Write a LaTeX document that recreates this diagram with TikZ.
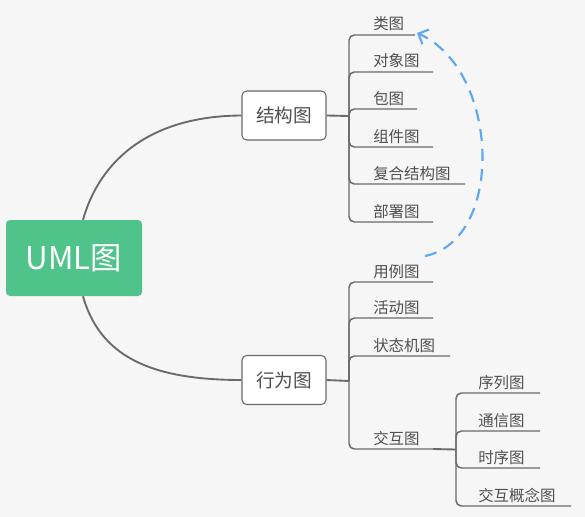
\documentclass[tikz,border=0pt]{standalone}
\usepackage{fontspec}
\setmainfont{Noto Sans CJK SC}
\usetikzlibrary{arrows.meta,calc}
\definecolor{bg}{HTML}{F6F6F6}
\definecolor{rootgreen}{HTML}{50C38B}
\definecolor{linegray}{HTML}{6A6A6A}
\definecolor{txtgray}{HTML}{4F4F4F}
\definecolor{dashblue}{HTML}{5DA8F4}
\tikzset{
  rootbox/.style={fill=rootgreen, rounded corners=3pt, minimum width=102pt, minimum height=57pt, inner sep=0pt, text=white, font=\fontsize{23.5}{26}\selectfont},
  midbox/.style={draw=linegray, fill=white, line width=0.8pt, rounded corners=3.5pt, minimum width=63pt, minimum height=36.75pt, inner sep=0pt, text=txtgray, font=\fontsize{14}{16}\selectfont},
  conn/.style={draw=linegray, line width=1.4pt},
  branch/.style={draw=linegray, line width=1.1pt, rounded corners=4},
  lab/.style={anchor=base west, inner sep=0pt, text=txtgray, font=\fontsize{11.6}{13}\selectfont},
  dasharrow/.style={draw=dashblue, line width=1.6pt, dash pattern=on 9pt off 6pt, -{Straight Barb[length=6pt,width=12pt,line width=1.6pt]}}
}
\begin{document}
\begin{tikzpicture}[x=0.75pt,y=-0.75pt]
\fill[bg] (0,0) rectangle (585,517);
\useasboundingbox (0,0) rectangle (585,517);

\node[rootbox] (uml) at (74,258) {UML图};
\node[midbox] (jg) at (284,115.5) {结构图};
\node[midbox] (xw) at (284,380) {行为图};

\draw[conn] ($(uml.north)+(9,0)$) .. controls (100,160) and (150,116) .. (jg.west);
\draw[conn] ($(uml.south)+(9,0)$) .. controls (100,356) and (150,380) .. (xw.west);

% structure branch
\coordinate (sj) at (349,116);
\draw[conn] (jg.east) -- (sj);
\coordinate (e1) at (415,35);
\coordinate (e2) at (433,72);
\coordinate (e3) at (417,109);
\coordinate (e4) at (433,147);
\coordinate (e5) at (465,184);
\coordinate (e6) at (433,222);
\foreach \e in {e1,e2,e3,e4,e5,e6} { \draw[branch] (sj) |- (\e); }
\node[lab] (t1) at (373,30) {类图};
\node[lab] (t2) at (373,67) {对象图};
\node[lab] (t3) at (373,104) {包图};
\node[lab] (t4) at (373,142) {组件图};
\node[lab] (t5) at (373,179) {复合结构图};
\node[lab] (t6) at (373,217) {部署图};

% behaviour branch
\coordinate (bj) at (349,381);
\draw[conn] (xw.east) -- (bj);
\coordinate (f1) at (433,282);
\coordinate (f2) at (433,318);
\coordinate (f3) at (450,356);
\coordinate (f4) at (433,449);
\foreach \e in {f1,f2,f3,f4} { \draw[branch] (bj) |- (\e); }
\node[lab] (u1) at (373,277) {用例图};
\node[lab] (u2) at (373,313) {活动图};
\node[lab] (u3) at (373,351) {状态机图};
\node[lab] (u4) at (373,444) {交互图};

% interaction sub branch
\coordinate (ij) at (456,449.5);
\draw[conn] (f4) -- (ij);
\coordinate (g1) at (540,393);
\coordinate (g2) at (540,431);
\coordinate (g3) at (540,468);
\coordinate (g4) at (571,506);
\foreach \e in {g1,g2,g3,g4} { \draw[branch] (ij) |- (\e); }
\node[lab] (v1) at (478,388) {序列图};
\node[lab] (v2) at (478,426) {通信图};
\node[lab] (v3) at (478,463) {时序图};
\node[lab] (v4) at (478,501) {交互概念图};

% dashed relation arrow
\coordinate (a1) at (425,256);
\coordinate (a2) at (417,33);
\draw[dasharrow] (a1) .. controls (505,240) and (500,70) .. (a2);
\end{tikzpicture}
\end{document}
